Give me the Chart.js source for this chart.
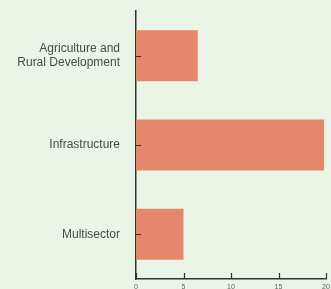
<!DOCTYPE html>
<html>
<head>
<meta charset="utf-8">
<script src="https://cdn.jsdelivr.net/npm/chart.js@4"></script>
<style>
  html, body { margin: 0; padding: 0; background: #eaf4e7; }
  #wrap { width: 331px; height: 289px; }
</style>
</head>
<body>
<div id="wrap"><canvas id="barChart" width="331" height="289"></canvas></div>
<script>
// Data
const categories = [['Agriculture and', 'Rural Development'], 'Infrastructure', 'Multisector'];
const values = [6.5, 19.8, 5.0];
const xTicks = [0, 5, 10, 15, 20];

// small inward tick marks on both axes
const innerTicks = {
    id: 'innerTicks',
    afterDraw(chart) {
        const ctx = chart.ctx;
        const x = chart.scales.x;
        const y = chart.scales.y;
        ctx.save();
        ctx.strokeStyle = '#333';
        ctx.lineWidth = 1.2;
        ctx.beginPath();
        xTicks.forEach(v => {
            const px = Math.round(x.getPixelForValue(v)) + 0.5;
            ctx.moveTo(px, y.bottom);
            ctx.lineTo(px, y.bottom - 6);
        });
        categories.forEach((c, i) => {
            const py = Math.round(y.getPixelForValue(i)) + 0.5;
            ctx.moveTo(x.left, py);
            ctx.lineTo(x.left + 5, py);
        });
        ctx.stroke();
        ctx.restore();
    }
};

const ctx = document.getElementById('barChart').getContext('2d');
new Chart(ctx, {
    type: 'bar',
    data: {
        labels: categories,
        datasets: [{
            data: values,
            backgroundColor: '#e5876a',
            borderWidth: 0,
            categoryPercentage: 1,
            barPercentage: 0.57
        }]
    },
    options: {
        indexAxis: 'y',
        responsive: false,
        animation: false,
        layout: { padding: { top: 11, right: 5, left: 0, bottom: 0 } },
        plugins: {
            legend: { display: false },
            tooltip: { enabled: false }
        },
        scales: {
            x: {
                min: 0,
                max: 20,
                afterBuildTicks: s => { s.ticks = xTicks.map(v => ({ value: v })); },
                afterFit: s => { s.height = 10; s.paddingLeft = 0; s.paddingRight = 0; },
                grid: { display: false, drawTicks: false },
                border: { color: '#333', width: 1.5 },
                ticks: {
                    padding: 4,
                    color: '#666',
                    font: { family: 'Liberation Sans, Arial, sans-serif', size: 7 }
                }
            },
            y: {
                afterFit: s => { s.width = 136; s.paddingTop = 0; s.paddingBottom = 0; },
                grid: { display: false, drawTicks: false },
                border: { color: '#333', width: 1.5 },
                ticks: {
                    padding: 16,
                    color: '#4a4a4a',
                    font: { family: 'Liberation Sans, Arial, sans-serif', size: 12 }
                }
            }
        }
    },
    plugins: [innerTicks]
});
</script>
</body>
</html>
